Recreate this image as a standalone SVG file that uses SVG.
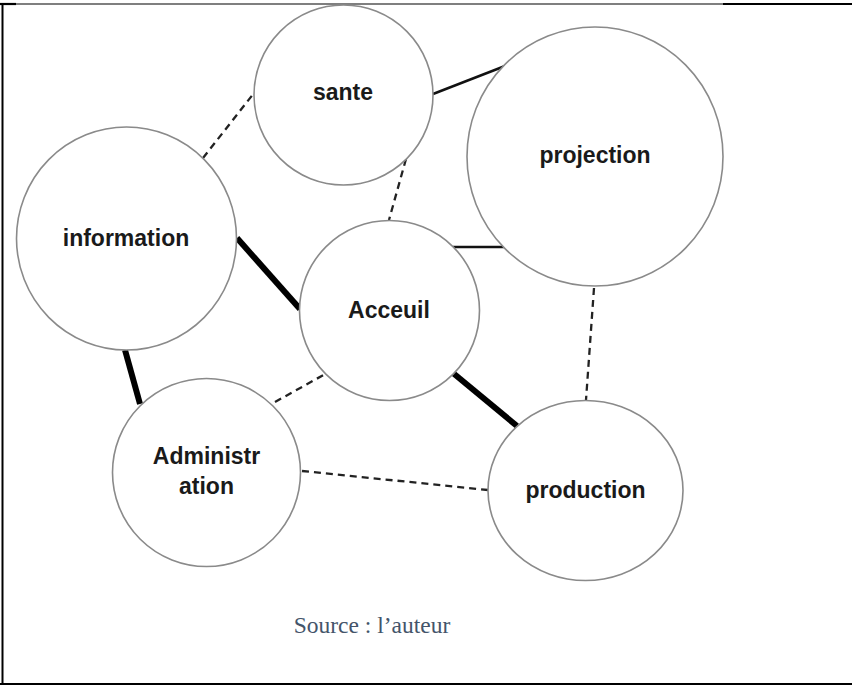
<svg xmlns="http://www.w3.org/2000/svg" width="852" height="685" viewBox="0 0 852 685">
<style>
.node{fill:#fff;stroke:#8a8a8a;stroke-width:1.6}
.lbl{font-family:"Liberation Sans",Arial,sans-serif;font-weight:bold;font-size:23px;fill:#1a1a1a;text-anchor:middle}
.dash{stroke:#222;stroke-width:2.3;stroke-dasharray:7 5;fill:none}
.thin{stroke:#111;stroke-width:2.5;fill:none}
.thick{stroke:#000;stroke-width:6;fill:none}
.border{stroke:#000;fill:none}
</style>
<rect width="852" height="685" fill="#fff"/>
<g id="frame">
<line class="border" x1="0" y1="4" x2="724" y2="4" stroke-width="1.2"/>
<line class="border" x1="723" y1="4" x2="852" y2="4" stroke-width="2.2"/>
<line class="border" x1="0" y1="4" x2="16" y2="4" stroke-width="2.2"/>
<line class="border" x1="2.5" y1="4" x2="2.5" y2="685" stroke-width="2"/>
<line class="border" x1="0" y1="684" x2="852" y2="684" stroke-width="2"/>
</g>
<g id="connectors">
<line class="dash" x1="203" y1="158" x2="254" y2="93"/>
<line class="thin" x1="433" y1="94" x2="505" y2="66"/>
<line class="dash" x1="406" y1="159" x2="389" y2="220"/>
<line class="thin" x1="453" y1="247" x2="504" y2="247"/>
<line class="dash" x1="594" y1="288" x2="586" y2="400"/>
<line class="thick" x1="237" y1="238" x2="300" y2="309"/>
<line class="thick" x1="125" y1="350" x2="140" y2="404"/>
<line class="dash" x1="275" y1="402" x2="327" y2="373"/>
<line class="thick" x1="453" y1="373" x2="517" y2="426"/>
<line class="dash" x1="302" y1="471" x2="488" y2="490"/>
</g>
<g id="sante">
<ellipse class="node" cx="343.5" cy="95" rx="89.5" ry="90"/>
<text class="lbl" x="343" y="100">sante</text>
</g>
<g id="projection">
<ellipse class="node" cx="595" cy="156.5" rx="128" ry="129.5"/>
<text class="lbl" x="595" y="163">projection</text>
</g>
<g id="information">
<ellipse class="node" cx="126.5" cy="238.5" rx="110" ry="111.5"/>
<text class="lbl" x="126" y="246">information</text>
</g>
<g id="acceuil">
<ellipse class="node" cx="389.5" cy="310.5" rx="90" ry="90"/>
<text class="lbl" x="389" y="318">Acceuil</text>
</g>
<g id="administration">
<ellipse class="node" cx="206.5" cy="472.5" rx="94" ry="94"/>
<text class="lbl" x="206.5" y="464">Administr</text>
<text class="lbl" x="206.5" y="494">ation</text>
</g>
<g id="production">
<ellipse class="node" cx="585.5" cy="490.5" rx="97.5" ry="90"/>
<text class="lbl" x="585.5" y="498">production</text>
</g>
<text x="372" y="633" font-family="'Liberation Serif','Times New Roman',serif" font-size="23.5" fill="#44546a" text-anchor="middle">Source : l’auteur</text>
</svg>
